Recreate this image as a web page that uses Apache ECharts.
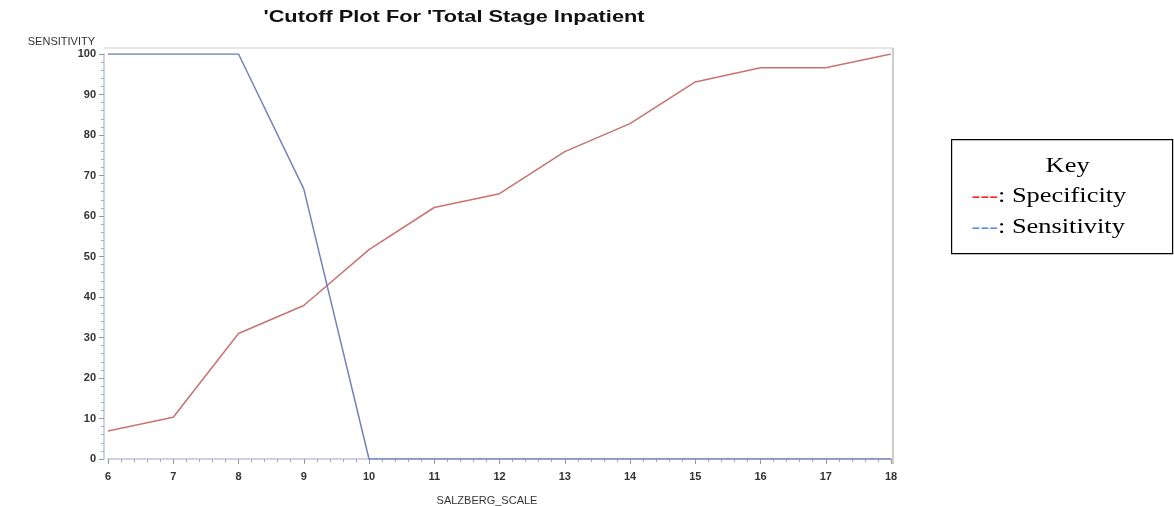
<!DOCTYPE html>
<html>
<head>
<meta charset="utf-8">
<script src="https://cdn.jsdelivr.net/npm/echarts@6/dist/echarts.min.js"></script>
<style>
  html, body { margin: 0; padding: 0; background: #fff; }
  #chart { width: 1174px; height: 506px; }
</style>
</head>
<body>
<div id="chart"></div>
<script>
// Cutoff values on the Salzberg scale
const cutoffs = [6, 7, 8, 9, 10, 11, 12, 13, 14, 15, 16, 17, 18];
// Specificity (%) at each cutoff
const specificity = [6.9, 10.3, 31.0, 37.9, 51.7, 62.1, 65.5, 75.9, 82.8, 93.1, 96.6, 96.6, 100];
// Sensitivity (%) at each cutoff
const sensitivity = [100, 100, 100, 66.7, 0, 0, 0, 0, 0, 0, 0, 0, 0];

const titleText = "'Cutoff Plot For 'Total Stage Inpatient";
const xName = 'SALZBERG_SCALE';
const yName = 'SENSITIVITY';
const keyTitle = 'Key';
const keyItems = ['Specificity', 'Sensitivity'];

const specColor = '#c8746c';
const sensColor = '#7482bb';

const chart = echarts.init(document.getElementById('chart'));

const toPairs = (ys) => cutoffs.map((x, i) => [x, ys[i]]);

const sans = '"Liberation Sans", Arial, sans-serif';
const serif = '"Liberation Serif", "Times New Roman", serif';

const axisLabelStyle = {
  color: '#333',
  fontFamily: sans,
  fontSize: 11,
  fontWeight: 'bold'
};

chart.setOption({
  animation: false,
  backgroundColor: '#fff',
  grid: { left: 108, right: 283, top: 54, bottom: 47, containLabel: false, outerBoundsMode: 'none' },
  xAxis: {
    type: 'value',
    min: 6,
    max: 18,
    interval: 1,
    offset: 5,
    name: xName,
    nameLocation: 'middle',
    nameGap: 31,
    nameTextStyle: { fontFamily: sans, fontSize: 11, color: '#333', padding: [0, 25, 0, 0] },
    axisLine: { show: true, lineStyle: { color: '#cdd3e2', width: 2 } },
    axisTick: { show: true, length: 5, lineStyle: { color: '#999' } },
    minorTick: { show: true, splitNumber: 5, length: 3, lineStyle: { color: '#aaa' } },
    axisLabel: Object.assign({ margin: 7 }, axisLabelStyle),
    splitLine: { show: false }
  },
  yAxis: {
    type: 'value',
    min: 0,
    max: 100,
    interval: 10,
    offset: 4,
    name: yName,
    nameLocation: 'end',
    nameGap: 7,
    nameTextStyle: { fontFamily: sans, fontSize: 11, color: '#333', align: 'right', padding: [0, 9, 0, 0] },
    axisLine: { show: true, lineStyle: { color: '#cdd3e2', width: 2 } },
    axisTick: { show: true, length: 5, lineStyle: { color: '#999' } },
    minorTick: { show: true, splitNumber: 5, length: 3, lineStyle: { color: '#aaa' } },
    axisLabel: Object.assign({ margin: 8 }, axisLabelStyle),
    splitLine: { show: false }
  },
  series: [
    {
      name: keyItems[0],
      type: 'line',
      data: toPairs(specificity),
      symbol: 'none',
      lineStyle: { color: specColor, width: 1.5 },
      z: 3
    },
    {
      name: keyItems[1],
      type: 'line',
      data: toPairs(sensitivity),
      symbol: 'none',
      lineStyle: { color: sensColor, width: 1.5 },
      z: 4
    }
  ],
  graphic: [
    // title, set in a wide bold face
    {
      type: 'text', x: 454, y: 9, scaleX: 1.28, originX: 0,
      style: { text: titleText, fill: '#111', font: 'bold 17px ' + sans, align: 'center' }
    },
    // top and right edges of the plot frame
    { type: 'line', shape: { x1: 104, y1: 48, x2: 893, y2: 48 }, style: { stroke: '#ddd', lineWidth: 1.5 }, silent: true },
    { type: 'line', shape: { x1: 893, y1: 48, x2: 893, y2: 464 }, style: { stroke: '#bbb', lineWidth: 1.5 }, silent: true },
    // key box
    {
      type: 'group',
      left: 951,
      top: 139,
      children: [
        { type: 'rect', shape: { x: 0, y: 0, width: 221, height: 114 }, style: { fill: '#fff', stroke: '#000', lineWidth: 1.2 } },
        {
          type: 'text', x: 116, y: 16, scaleX: 1.2,
          style: { text: keyTitle, fill: '#000', font: '22px ' + serif, align: 'center' }
        },
        {
          type: 'text', x: 20, y: 46, scaleX: 1.2,
          style: {
            text: '{r|---}: ' + keyItems[0],
            fill: '#000',
            font: '22px ' + serif,
            rich: { r: { fill: '#ff2020', font: '22px ' + serif } }
          }
        },
        {
          type: 'text', x: 20, y: 77, scaleX: 1.2,
          style: {
            text: '{b|---}: ' + keyItems[1],
            fill: '#000',
            font: '22px ' + serif,
            rich: { b: { fill: '#5b8fd8', font: '22px ' + serif } }
          }
        }
      ]
    }
  ]
});
</script>
</body>
</html>
